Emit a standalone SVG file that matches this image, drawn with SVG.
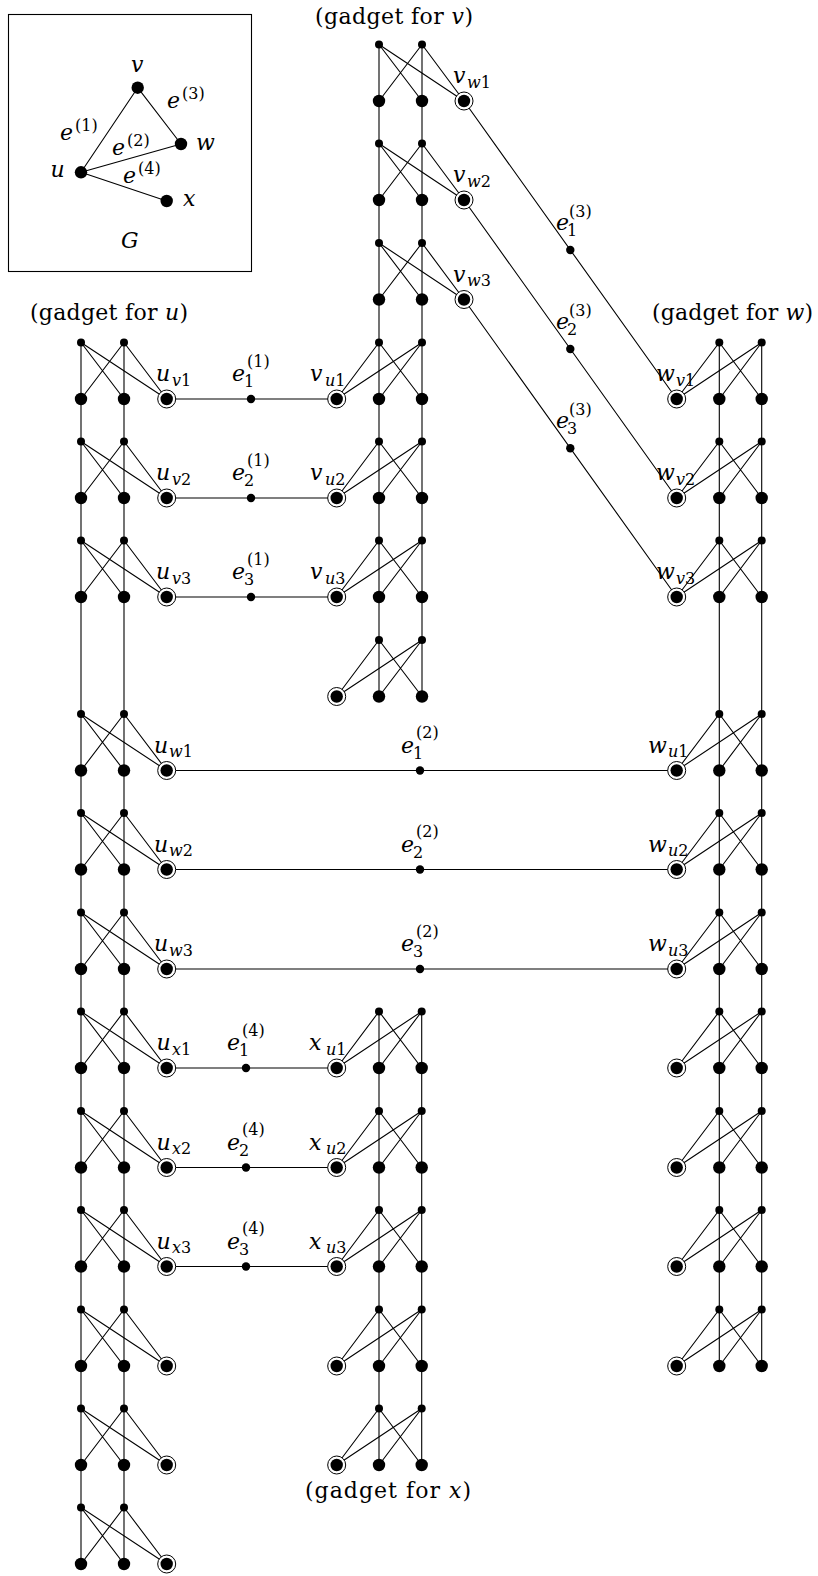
<svg xmlns="http://www.w3.org/2000/svg" width="818" height="1576" viewBox="0 0 818 1576">
<style>
.ln{stroke:#000;stroke-width:1.1;fill:none}
text{font-family:'DejaVu Serif','Liberation Serif',serif;fill:#000}
.m{font-style:italic;font-size:22px}
.s{font-size:16px}
.r{font-style:normal}
.t{font-size:22px;font-style:normal}
</style>
<defs>
<circle id="sd" r="4" fill="#000"/>
<circle id="bd" r="6.2" fill="#000"/>
<circle id="ed" r="4.2" fill="#000"/>
<g id="pt"><circle r="9" fill="#fff" stroke="#000" stroke-width="1"/><circle r="6.2" fill="#000"/></g>
</defs>
<rect width="818" height="1576" fill="#fff"/>

<!-- inset graph G -->
<g id="inset">
<rect x="8.5" y="14.5" width="243" height="257" fill="none" stroke="#000" stroke-width="1.1"/>
<g class="ln">
<path d="M81 172.3L137.7 87.7M137.7 87.7L181 144M81 172.3L181 144M81 172.3L166.7 201"/>
</g>
<g id="g-u"><circle cx="81" cy="172.3" r="6.2"/><text class="m" x="50.5" y="177">u</text></g>
<g id="g-v"><circle cx="137.7" cy="87.7" r="6.2"/><text class="m" x="131" y="72">v</text></g>
<g id="g-w"><circle cx="181" cy="144" r="6.2"/><text class="m" x="196" y="149.5">w</text></g>
<g id="g-x"><circle cx="166.7" cy="201" r="6.2"/><text class="m" x="183" y="206">x</text></g>
<text class="m" x="60" y="140">e<tspan class="s r" x="75" y="130.5">(1)</tspan></text>
<text class="m" x="112" y="155">e<tspan class="s r" x="127" y="145.5">(2)</tspan></text>
<text class="m" x="167" y="108">e<tspan class="s r" x="182" y="98.5">(3)</tspan></text>
<text class="m" x="123" y="183">e<tspan class="s r" x="138" y="173.5">(4)</tspan></text>
<text class="m" x="121" y="248">G</text>
</g>

<!-- titles -->
<text class="t" x="30" y="320" textLength="158" lengthAdjust="spacing">(gadget for <tspan font-style="italic">u</tspan>)</text>
<text class="t" x="315" y="23.5" textLength="158" lengthAdjust="spacing">(gadget for <tspan font-style="italic">v</tspan>)</text>
<text class="t" x="652" y="320" textLength="161" lengthAdjust="spacing">(gadget for <tspan font-style="italic">w</tspan>)</text>
<text class="t" x="305" y="1498" textLength="166" lengthAdjust="spacing">(gadget for <tspan font-style="italic">x</tspan>)</text>

<!-- connectors -->
<g id="connectors" class="ln">
<path d="M81 342.5V1564M124 342.5V1564"/>
<path d="M379 44.5V696.5M422 44.5V696.5"/>
<path d="M719.3 342.5V1366M761.7 342.5V1366"/>
<path d="M379 1011.5V1465M421.7 1011.5V1465"/>
<path d="M81 342.5L124 399M81 342.5L166.7 399M124 342.5L81 399M124 342.5L166.7 399"/>
<path d="M81 441.5L124 498M81 441.5L166.7 498M124 441.5L81 498M124 441.5L166.7 498"/>
<path d="M81 540.5L124 597M81 540.5L166.7 597M124 540.5L81 597M124 540.5L166.7 597"/>
<path d="M81 714L124 770.5M81 714L166.7 770.5M124 714L81 770.5M124 714L166.7 770.5"/>
<path d="M81 813L124 869.5M81 813L166.7 869.5M124 813L81 869.5M124 813L166.7 869.5"/>
<path d="M81 912.5L124 969M81 912.5L166.7 969M124 912.5L81 969M124 912.5L166.7 969"/>
<path d="M81 1011.5L124 1068M81 1011.5L166.7 1068M124 1011.5L81 1068M124 1011.5L166.7 1068"/>
<path d="M81 1111L124 1167.5M81 1111L166.7 1167.5M124 1111L81 1167.5M124 1111L166.7 1167.5"/>
<path d="M81 1210L124 1266.5M81 1210L166.7 1266.5M124 1210L81 1266.5M124 1210L166.7 1266.5"/>
<path d="M81 1309.5L124 1366M81 1309.5L166.7 1366M124 1309.5L81 1366M124 1309.5L166.7 1366"/>
<path d="M81 1408.5L124 1465M81 1408.5L166.7 1465M124 1408.5L81 1465M124 1408.5L166.7 1465"/>
<path d="M81 1507.5L124 1564M81 1507.5L166.7 1564M124 1507.5L81 1564M124 1507.5L166.7 1564"/>
<path d="M379 44.5L422 101M379 44.5L464 101M422 44.5L379 101M422 44.5L464 101"/>
<path d="M379 143.5L422 200M379 143.5L464 200M422 143.5L379 200M422 143.5L464 200"/>
<path d="M379 243L422 299.5M379 243L464 299.5M422 243L379 299.5M422 243L464 299.5"/>
<path d="M379 342.5L422 399M379 342.5L336.7 399M422 342.5L379 399M422 342.5L336.7 399"/>
<path d="M379 441.5L422 498M379 441.5L336.7 498M422 441.5L379 498M422 441.5L336.7 498"/>
<path d="M379 540.5L422 597M379 540.5L336.7 597M422 540.5L379 597M422 540.5L336.7 597"/>
<path d="M379 640L422 696.5M379 640L336.7 696.5M422 640L379 696.5M422 640L336.7 696.5"/>
<path d="M719.3 342.5L761.7 399M719.3 342.5L676.7 399M761.7 342.5L719.3 399M761.7 342.5L676.7 399"/>
<path d="M719.3 441.5L761.7 498M719.3 441.5L676.7 498M761.7 441.5L719.3 498M761.7 441.5L676.7 498"/>
<path d="M719.3 540.5L761.7 597M719.3 540.5L676.7 597M761.7 540.5L719.3 597M761.7 540.5L676.7 597"/>
<path d="M719.3 714L761.7 770.5M719.3 714L676.7 770.5M761.7 714L719.3 770.5M761.7 714L676.7 770.5"/>
<path d="M719.3 813L761.7 869.5M719.3 813L676.7 869.5M761.7 813L719.3 869.5M761.7 813L676.7 869.5"/>
<path d="M719.3 912.5L761.7 969M719.3 912.5L676.7 969M761.7 912.5L719.3 969M761.7 912.5L676.7 969"/>
<path d="M719.3 1011.5L761.7 1068M719.3 1011.5L676.7 1068M761.7 1011.5L719.3 1068M761.7 1011.5L676.7 1068"/>
<path d="M719.3 1111L761.7 1167.5M719.3 1111L676.7 1167.5M761.7 1111L719.3 1167.5M761.7 1111L676.7 1167.5"/>
<path d="M719.3 1210L761.7 1266.5M719.3 1210L676.7 1266.5M761.7 1210L719.3 1266.5M761.7 1210L676.7 1266.5"/>
<path d="M719.3 1309.5L761.7 1366M719.3 1309.5L676.7 1366M761.7 1309.5L719.3 1366M761.7 1309.5L676.7 1366"/>
<path d="M379 1011.5L421.7 1068M379 1011.5L336.7 1068M421.7 1011.5L379 1068M421.7 1011.5L336.7 1068"/>
<path d="M379 1111L421.7 1167.5M379 1111L336.7 1167.5M421.7 1111L379 1167.5M421.7 1111L336.7 1167.5"/>
<path d="M379 1210L421.7 1266.5M379 1210L336.7 1266.5M421.7 1210L379 1266.5M421.7 1210L336.7 1266.5"/>
<path d="M379 1309.5L421.7 1366M379 1309.5L336.7 1366M421.7 1309.5L379 1366M421.7 1309.5L336.7 1366"/>
<path d="M379 1408.5L421.7 1465M379 1408.5L336.7 1465M421.7 1408.5L379 1465M421.7 1408.5L336.7 1465"/>
<path d="M166.7 399H336.7M166.7 498H336.7M166.7 597H336.7"/>
<path d="M166.7 770.5H676.7M166.7 869.5H676.7M166.7 969H676.7"/>
<path d="M464 101L676.7 399M464 200L676.7 498M464 299.5L676.7 597"/>
<path d="M166.7 1068H336.7M166.7 1167.5H336.7M166.7 1266.5H336.7"/>
</g>

<!-- gadget u nodes -->
<g id="u1-at"><use href="#sd" x="81" y="342.5"/></g><g id="u1-bt"><use href="#sd" x="124" y="342.5"/></g><g id="u1-ab"><use href="#bd" x="81" y="399"/></g><g id="u1-bb"><use href="#bd" x="124" y="399"/></g><g id="u1-p"><use href="#pt" x="166.7" y="399"/></g>
<g id="u2-at"><use href="#sd" x="81" y="441.5"/></g><g id="u2-bt"><use href="#sd" x="124" y="441.5"/></g><g id="u2-ab"><use href="#bd" x="81" y="498"/></g><g id="u2-bb"><use href="#bd" x="124" y="498"/></g><g id="u2-p"><use href="#pt" x="166.7" y="498"/></g>
<g id="u3-at"><use href="#sd" x="81" y="540.5"/></g><g id="u3-bt"><use href="#sd" x="124" y="540.5"/></g><g id="u3-ab"><use href="#bd" x="81" y="597"/></g><g id="u3-bb"><use href="#bd" x="124" y="597"/></g><g id="u3-p"><use href="#pt" x="166.7" y="597"/></g>
<g id="u4-at"><use href="#sd" x="81" y="714"/></g><g id="u4-bt"><use href="#sd" x="124" y="714"/></g><g id="u4-ab"><use href="#bd" x="81" y="770.5"/></g><g id="u4-bb"><use href="#bd" x="124" y="770.5"/></g><g id="u4-p"><use href="#pt" x="166.7" y="770.5"/></g>
<g id="u5-at"><use href="#sd" x="81" y="813"/></g><g id="u5-bt"><use href="#sd" x="124" y="813"/></g><g id="u5-ab"><use href="#bd" x="81" y="869.5"/></g><g id="u5-bb"><use href="#bd" x="124" y="869.5"/></g><g id="u5-p"><use href="#pt" x="166.7" y="869.5"/></g>
<g id="u6-at"><use href="#sd" x="81" y="912.5"/></g><g id="u6-bt"><use href="#sd" x="124" y="912.5"/></g><g id="u6-ab"><use href="#bd" x="81" y="969"/></g><g id="u6-bb"><use href="#bd" x="124" y="969"/></g><g id="u6-p"><use href="#pt" x="166.7" y="969"/></g>
<g id="u7-at"><use href="#sd" x="81" y="1011.5"/></g><g id="u7-bt"><use href="#sd" x="124" y="1011.5"/></g><g id="u7-ab"><use href="#bd" x="81" y="1068"/></g><g id="u7-bb"><use href="#bd" x="124" y="1068"/></g><g id="u7-p"><use href="#pt" x="166.7" y="1068"/></g>
<g id="u8-at"><use href="#sd" x="81" y="1111"/></g><g id="u8-bt"><use href="#sd" x="124" y="1111"/></g><g id="u8-ab"><use href="#bd" x="81" y="1167.5"/></g><g id="u8-bb"><use href="#bd" x="124" y="1167.5"/></g><g id="u8-p"><use href="#pt" x="166.7" y="1167.5"/></g>
<g id="u9-at"><use href="#sd" x="81" y="1210"/></g><g id="u9-bt"><use href="#sd" x="124" y="1210"/></g><g id="u9-ab"><use href="#bd" x="81" y="1266.5"/></g><g id="u9-bb"><use href="#bd" x="124" y="1266.5"/></g><g id="u9-p"><use href="#pt" x="166.7" y="1266.5"/></g>
<g id="u10-at"><use href="#sd" x="81" y="1309.5"/></g><g id="u10-bt"><use href="#sd" x="124" y="1309.5"/></g><g id="u10-ab"><use href="#bd" x="81" y="1366"/></g><g id="u10-bb"><use href="#bd" x="124" y="1366"/></g><g id="u10-p"><use href="#pt" x="166.7" y="1366"/></g>
<g id="u11-at"><use href="#sd" x="81" y="1408.5"/></g><g id="u11-bt"><use href="#sd" x="124" y="1408.5"/></g><g id="u11-ab"><use href="#bd" x="81" y="1465"/></g><g id="u11-bb"><use href="#bd" x="124" y="1465"/></g><g id="u11-p"><use href="#pt" x="166.7" y="1465"/></g>
<g id="u12-at"><use href="#sd" x="81" y="1507.5"/></g><g id="u12-bt"><use href="#sd" x="124" y="1507.5"/></g><g id="u12-ab"><use href="#bd" x="81" y="1564"/></g><g id="u12-bb"><use href="#bd" x="124" y="1564"/></g><g id="u12-p"><use href="#pt" x="166.7" y="1564"/></g>

<!-- gadget v nodes -->
<g id="v1-at"><use href="#sd" x="379" y="44.5"/></g><g id="v1-bt"><use href="#sd" x="422" y="44.5"/></g><g id="v1-ab"><use href="#bd" x="379" y="101"/></g><g id="v1-bb"><use href="#bd" x="422" y="101"/></g><g id="v1-p"><use href="#pt" x="464" y="101"/></g>
<g id="v2-at"><use href="#sd" x="379" y="143.5"/></g><g id="v2-bt"><use href="#sd" x="422" y="143.5"/></g><g id="v2-ab"><use href="#bd" x="379" y="200"/></g><g id="v2-bb"><use href="#bd" x="422" y="200"/></g><g id="v2-p"><use href="#pt" x="464" y="200"/></g>
<g id="v3-at"><use href="#sd" x="379" y="243"/></g><g id="v3-bt"><use href="#sd" x="422" y="243"/></g><g id="v3-ab"><use href="#bd" x="379" y="299.5"/></g><g id="v3-bb"><use href="#bd" x="422" y="299.5"/></g><g id="v3-p"><use href="#pt" x="464" y="299.5"/></g>
<g id="v4-at"><use href="#sd" x="379" y="342.5"/></g><g id="v4-bt"><use href="#sd" x="422" y="342.5"/></g><g id="v4-ab"><use href="#bd" x="379" y="399"/></g><g id="v4-bb"><use href="#bd" x="422" y="399"/></g><g id="v4-p"><use href="#pt" x="336.7" y="399"/></g>
<g id="v5-at"><use href="#sd" x="379" y="441.5"/></g><g id="v5-bt"><use href="#sd" x="422" y="441.5"/></g><g id="v5-ab"><use href="#bd" x="379" y="498"/></g><g id="v5-bb"><use href="#bd" x="422" y="498"/></g><g id="v5-p"><use href="#pt" x="336.7" y="498"/></g>
<g id="v6-at"><use href="#sd" x="379" y="540.5"/></g><g id="v6-bt"><use href="#sd" x="422" y="540.5"/></g><g id="v6-ab"><use href="#bd" x="379" y="597"/></g><g id="v6-bb"><use href="#bd" x="422" y="597"/></g><g id="v6-p"><use href="#pt" x="336.7" y="597"/></g>
<g id="v7-at"><use href="#sd" x="379" y="640"/></g><g id="v7-bt"><use href="#sd" x="422" y="640"/></g><g id="v7-ab"><use href="#bd" x="379" y="696.5"/></g><g id="v7-bb"><use href="#bd" x="422" y="696.5"/></g><g id="v7-p"><use href="#pt" x="336.7" y="696.5"/></g>

<!-- gadget w nodes -->
<g id="w1-at"><use href="#sd" x="719.3" y="342.5"/></g><g id="w1-bt"><use href="#sd" x="761.7" y="342.5"/></g><g id="w1-ab"><use href="#bd" x="719.3" y="399"/></g><g id="w1-bb"><use href="#bd" x="761.7" y="399"/></g><g id="w1-p"><use href="#pt" x="676.7" y="399"/></g>
<g id="w2-at"><use href="#sd" x="719.3" y="441.5"/></g><g id="w2-bt"><use href="#sd" x="761.7" y="441.5"/></g><g id="w2-ab"><use href="#bd" x="719.3" y="498"/></g><g id="w2-bb"><use href="#bd" x="761.7" y="498"/></g><g id="w2-p"><use href="#pt" x="676.7" y="498"/></g>
<g id="w3-at"><use href="#sd" x="719.3" y="540.5"/></g><g id="w3-bt"><use href="#sd" x="761.7" y="540.5"/></g><g id="w3-ab"><use href="#bd" x="719.3" y="597"/></g><g id="w3-bb"><use href="#bd" x="761.7" y="597"/></g><g id="w3-p"><use href="#pt" x="676.7" y="597"/></g>
<g id="w4-at"><use href="#sd" x="719.3" y="714"/></g><g id="w4-bt"><use href="#sd" x="761.7" y="714"/></g><g id="w4-ab"><use href="#bd" x="719.3" y="770.5"/></g><g id="w4-bb"><use href="#bd" x="761.7" y="770.5"/></g><g id="w4-p"><use href="#pt" x="676.7" y="770.5"/></g>
<g id="w5-at"><use href="#sd" x="719.3" y="813"/></g><g id="w5-bt"><use href="#sd" x="761.7" y="813"/></g><g id="w5-ab"><use href="#bd" x="719.3" y="869.5"/></g><g id="w5-bb"><use href="#bd" x="761.7" y="869.5"/></g><g id="w5-p"><use href="#pt" x="676.7" y="869.5"/></g>
<g id="w6-at"><use href="#sd" x="719.3" y="912.5"/></g><g id="w6-bt"><use href="#sd" x="761.7" y="912.5"/></g><g id="w6-ab"><use href="#bd" x="719.3" y="969"/></g><g id="w6-bb"><use href="#bd" x="761.7" y="969"/></g><g id="w6-p"><use href="#pt" x="676.7" y="969"/></g>
<g id="w7-at"><use href="#sd" x="719.3" y="1011.5"/></g><g id="w7-bt"><use href="#sd" x="761.7" y="1011.5"/></g><g id="w7-ab"><use href="#bd" x="719.3" y="1068"/></g><g id="w7-bb"><use href="#bd" x="761.7" y="1068"/></g><g id="w7-p"><use href="#pt" x="676.7" y="1068"/></g>
<g id="w8-at"><use href="#sd" x="719.3" y="1111"/></g><g id="w8-bt"><use href="#sd" x="761.7" y="1111"/></g><g id="w8-ab"><use href="#bd" x="719.3" y="1167.5"/></g><g id="w8-bb"><use href="#bd" x="761.7" y="1167.5"/></g><g id="w8-p"><use href="#pt" x="676.7" y="1167.5"/></g>
<g id="w9-at"><use href="#sd" x="719.3" y="1210"/></g><g id="w9-bt"><use href="#sd" x="761.7" y="1210"/></g><g id="w9-ab"><use href="#bd" x="719.3" y="1266.5"/></g><g id="w9-bb"><use href="#bd" x="761.7" y="1266.5"/></g><g id="w9-p"><use href="#pt" x="676.7" y="1266.5"/></g>
<g id="w10-at"><use href="#sd" x="719.3" y="1309.5"/></g><g id="w10-bt"><use href="#sd" x="761.7" y="1309.5"/></g><g id="w10-ab"><use href="#bd" x="719.3" y="1366"/></g><g id="w10-bb"><use href="#bd" x="761.7" y="1366"/></g><g id="w10-p"><use href="#pt" x="676.7" y="1366"/></g>

<!-- gadget x nodes -->
<g id="x1-at"><use href="#sd" x="379" y="1011.5"/></g><g id="x1-bt"><use href="#sd" x="421.7" y="1011.5"/></g><g id="x1-ab"><use href="#bd" x="379" y="1068"/></g><g id="x1-bb"><use href="#bd" x="421.7" y="1068"/></g><g id="x1-p"><use href="#pt" x="336.7" y="1068"/></g>
<g id="x2-at"><use href="#sd" x="379" y="1111"/></g><g id="x2-bt"><use href="#sd" x="421.7" y="1111"/></g><g id="x2-ab"><use href="#bd" x="379" y="1167.5"/></g><g id="x2-bb"><use href="#bd" x="421.7" y="1167.5"/></g><g id="x2-p"><use href="#pt" x="336.7" y="1167.5"/></g>
<g id="x3-at"><use href="#sd" x="379" y="1210"/></g><g id="x3-bt"><use href="#sd" x="421.7" y="1210"/></g><g id="x3-ab"><use href="#bd" x="379" y="1266.5"/></g><g id="x3-bb"><use href="#bd" x="421.7" y="1266.5"/></g><g id="x3-p"><use href="#pt" x="336.7" y="1266.5"/></g>
<g id="x4-at"><use href="#sd" x="379" y="1309.5"/></g><g id="x4-bt"><use href="#sd" x="421.7" y="1309.5"/></g><g id="x4-ab"><use href="#bd" x="379" y="1366"/></g><g id="x4-bb"><use href="#bd" x="421.7" y="1366"/></g><g id="x4-p"><use href="#pt" x="336.7" y="1366"/></g>
<g id="x5-at"><use href="#sd" x="379" y="1408.5"/></g><g id="x5-bt"><use href="#sd" x="421.7" y="1408.5"/></g><g id="x5-ab"><use href="#bd" x="379" y="1465"/></g><g id="x5-bb"><use href="#bd" x="421.7" y="1465"/></g><g id="x5-p"><use href="#pt" x="336.7" y="1465"/></g>

<!-- edge subdivision nodes -->
<g id="e1-1"><use href="#ed" x="251" y="399"/></g><g id="e1-2"><use href="#ed" x="251" y="498"/></g><g id="e1-3"><use href="#ed" x="251" y="597"/></g>
<g id="e2-1"><use href="#ed" x="420" y="770.5"/></g><g id="e2-2"><use href="#ed" x="420" y="869.5"/></g><g id="e2-3"><use href="#ed" x="420" y="969"/></g>
<g id="e3-1"><use href="#ed" x="570.3" y="250"/></g><g id="e3-2"><use href="#ed" x="570.3" y="349"/></g><g id="e3-3"><use href="#ed" x="570.3" y="448.3"/></g>
<g id="e4-1"><use href="#ed" x="246" y="1068"/></g><g id="e4-2"><use href="#ed" x="246" y="1167.5"/></g><g id="e4-3"><use href="#ed" x="246" y="1266.5"/></g>

<!-- labels -->
<g id="labels">
<text class="m" x="156" y="381">u<tspan class="s" x="172" y="385.5">v</tspan><tspan class="s r">1</tspan></text>
<text class="m" x="156" y="480">u<tspan class="s" x="172" y="484.5">v</tspan><tspan class="s r">2</tspan></text>
<text class="m" x="156" y="579">u<tspan class="s" x="172" y="583.5">v</tspan><tspan class="s r">3</tspan></text>
<text class="m" x="154" y="752.5">u<tspan class="s" x="169" y="757">w</tspan><tspan class="s r">1</tspan></text>
<text class="m" x="154" y="851.5">u<tspan class="s" x="169" y="856">w</tspan><tspan class="s r">2</tspan></text>
<text class="m" x="154" y="951">u<tspan class="s" x="169" y="955.5">w</tspan><tspan class="s r">3</tspan></text>
<text class="m" x="156.5" y="1050">u<tspan class="s" x="172" y="1054.5">x</tspan><tspan class="s r">1</tspan></text>
<text class="m" x="156.5" y="1149.5">u<tspan class="s" x="172" y="1154">x</tspan><tspan class="s r">2</tspan></text>
<text class="m" x="156.5" y="1248.5">u<tspan class="s" x="172" y="1253">x</tspan><tspan class="s r">3</tspan></text>
<text class="m" x="453" y="83">v<tspan class="s" x="467" y="87.5">w</tspan><tspan class="s r">1</tspan></text>
<text class="m" x="453" y="182">v<tspan class="s" x="467" y="186.5">w</tspan><tspan class="s r">2</tspan></text>
<text class="m" x="453" y="281.5">v<tspan class="s" x="467" y="286">w</tspan><tspan class="s r">3</tspan></text>
<text class="m" x="310" y="381">v<tspan class="s" x="325" y="385.5">u</tspan><tspan class="s r">1</tspan></text>
<text class="m" x="310" y="480">v<tspan class="s" x="325" y="484.5">u</tspan><tspan class="s r">2</tspan></text>
<text class="m" x="310" y="579">v<tspan class="s" x="325" y="583.5">u</tspan><tspan class="s r">3</tspan></text>
<text class="m" x="656" y="381">w<tspan class="s" x="676" y="385.5">v</tspan><tspan class="s r">1</tspan></text>
<text class="m" x="656" y="480">w<tspan class="s" x="676" y="484.5">v</tspan><tspan class="s r">2</tspan></text>
<text class="m" x="656" y="579">w<tspan class="s" x="676" y="583.5">v</tspan><tspan class="s r">3</tspan></text>
<text class="m" x="648" y="752.5">w<tspan class="s" x="668" y="757">u</tspan><tspan class="s r">1</tspan></text>
<text class="m" x="648" y="851.5">w<tspan class="s" x="668" y="856">u</tspan><tspan class="s r">2</tspan></text>
<text class="m" x="648" y="951">w<tspan class="s" x="668" y="955.5">u</tspan><tspan class="s r">3</tspan></text>
<text class="m" x="309" y="1050">x<tspan class="s" x="326" y="1054.5">u</tspan><tspan class="s r">1</tspan></text>
<text class="m" x="309" y="1149.5">x<tspan class="s" x="326" y="1154">u</tspan><tspan class="s r">2</tspan></text>
<text class="m" x="309" y="1248.5">x<tspan class="s" x="326" y="1253">u</tspan><tspan class="s r">3</tspan></text>
<text class="m" x="232" y="381">e<tspan class="s r" x="244" y="387">1</tspan><tspan class="s r" x="247" y="366.5">(1)</tspan></text>
<text class="m" x="232" y="480">e<tspan class="s r" x="244" y="486">2</tspan><tspan class="s r" x="247" y="465.5">(1)</tspan></text>
<text class="m" x="232" y="579">e<tspan class="s r" x="244" y="585">3</tspan><tspan class="s r" x="247" y="564.5">(1)</tspan></text>
<text class="m" x="401" y="752.5">e<tspan class="s r" x="413" y="758.5">1</tspan><tspan class="s r" x="416" y="738">(2)</tspan></text>
<text class="m" x="401" y="851.5">e<tspan class="s r" x="413" y="857.5">2</tspan><tspan class="s r" x="416" y="837">(2)</tspan></text>
<text class="m" x="401" y="951">e<tspan class="s r" x="413" y="957">3</tspan><tspan class="s r" x="416" y="936.5">(2)</tspan></text>
<text class="m" x="556" y="229.5">e<tspan class="s r" x="567" y="236">1</tspan><tspan class="s r" x="569" y="217">(3)</tspan></text>
<text class="m" x="556" y="328.5">e<tspan class="s r" x="567" y="335">2</tspan><tspan class="s r" x="569" y="316">(3)</tspan></text>
<text class="m" x="556" y="427.8">e<tspan class="s r" x="567" y="434.3">3</tspan><tspan class="s r" x="569" y="415.3">(3)</tspan></text>
<text class="m" x="227" y="1050">e<tspan class="s r" x="239" y="1056">1</tspan><tspan class="s r" x="242" y="1035.5">(4)</tspan></text>
<text class="m" x="227" y="1149.5">e<tspan class="s r" x="239" y="1155.5">2</tspan><tspan class="s r" x="242" y="1135">(4)</tspan></text>
<text class="m" x="227" y="1248.5">e<tspan class="s r" x="239" y="1254.5">3</tspan><tspan class="s r" x="242" y="1234">(4)</tspan></text>
</g>
</svg>
